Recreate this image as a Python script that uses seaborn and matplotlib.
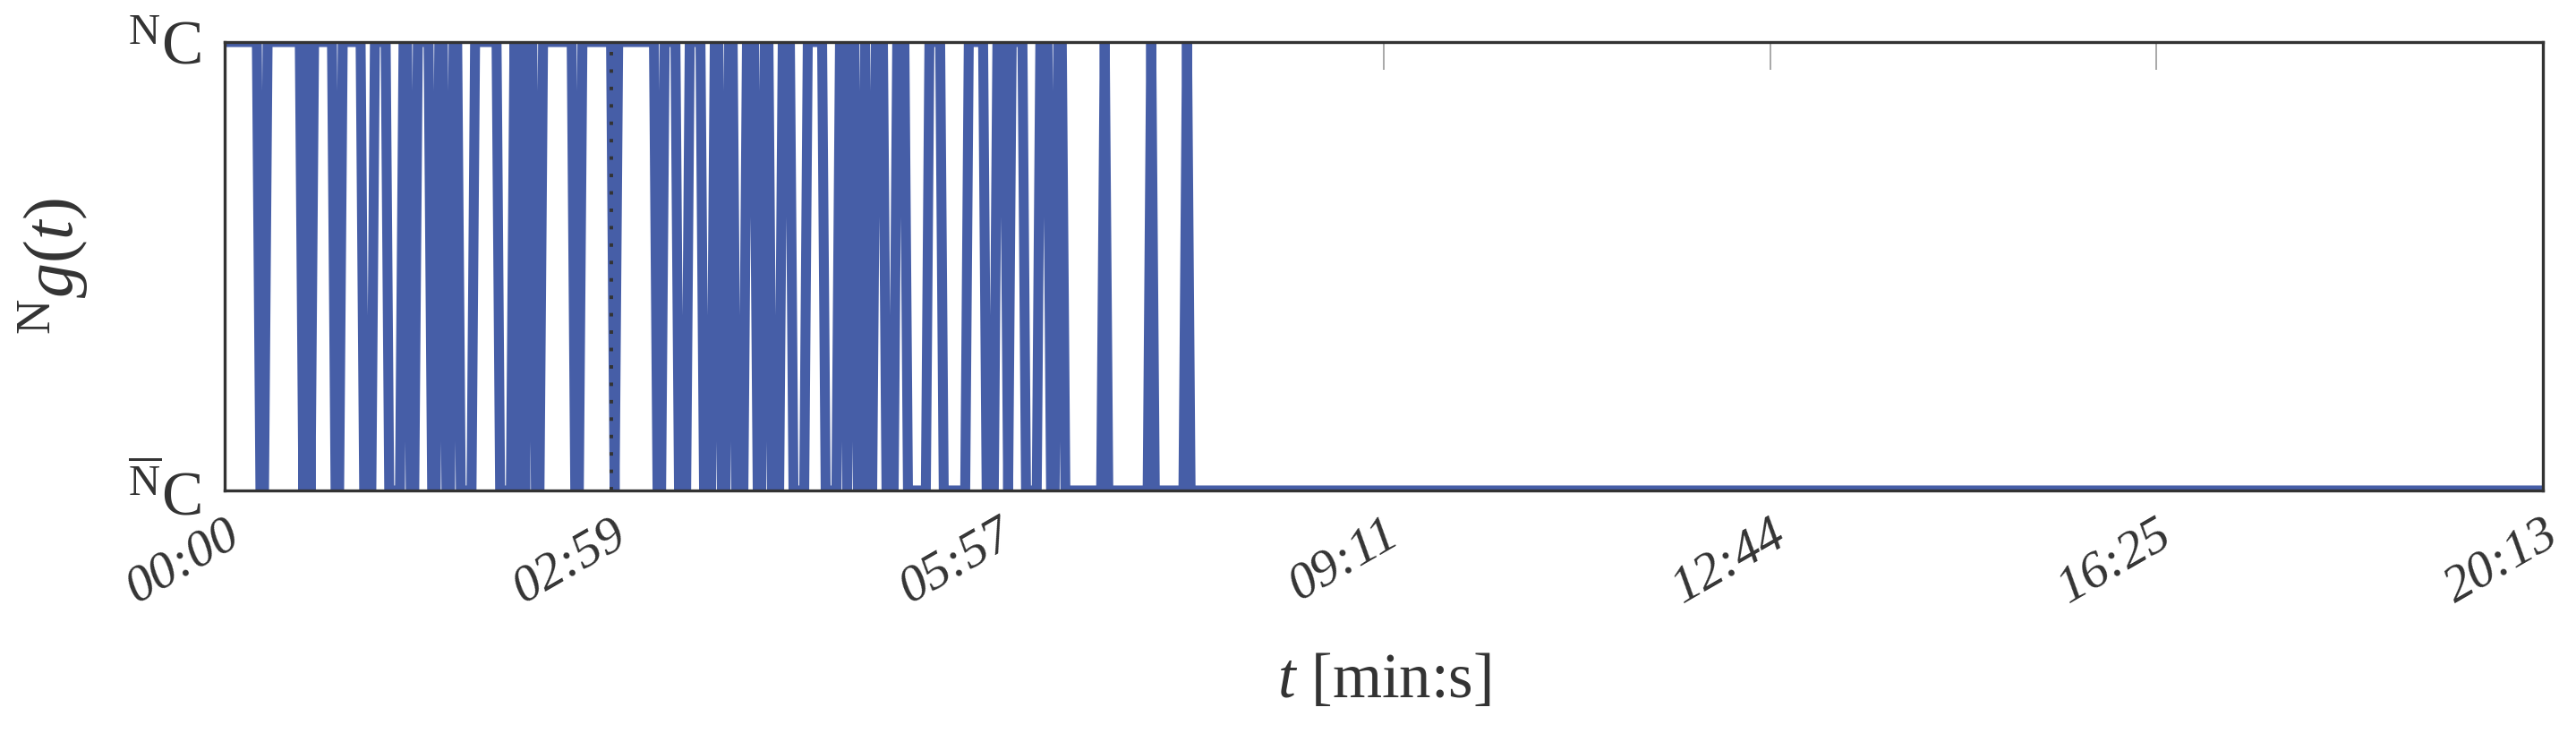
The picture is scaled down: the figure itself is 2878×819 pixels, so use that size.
import matplotlib
matplotlib.use('Agg')
import matplotlib.pyplot as plt
import numpy as np
import pandas as pd
import seaborn as sns

################################################################
# Data: binary state N_g(t) per sample (1 = N_C, 0 = N_C bar)
################################################################
n_samples = 648  # last sample index on the x axis

# runs of samples where the state is N_C (start, end), inclusive
high_runs = [(0, 9), (12, 21), (23, 23), (25, 30), (33, 38), (42, 45),
             (50, 51), (54, 57), (60, 61), (64, 65), (70, 76), (81, 81),
             (83, 83), (85, 86), (89, 97), (100, 108), (110, 120), (123, 126),
             (130, 133), (137, 138), (141, 142), (146, 148), (151, 152),
             (156, 158), (163, 167), (172, 173), (175, 176), (179, 179),
             (182, 184), (188, 190), (197, 200), (208, 212), (216, 218),
             (220, 223), (228, 230), (233, 234), (246, 246), (259, 259),
             (269, 269)]

tick_labels = ['00:00', '02:59', '05:57', '09:11', '12:44', '16:25', '20:13']
marker_sample = 108  # dotted vertical line (02:59)

state = np.zeros(n_samples + 1)
for start, end in high_runs:
    state[start:end + 1] = 1
df = pd.DataFrame({'sample': np.arange(n_samples + 1), 'state': state})

################################################################
# Plot
################################################################
sns.set_theme(style='white')
plt.rcParams['font.family'] = ['Liberation Serif', 'DejaVu Serif']
plt.rcParams['mathtext.fontset'] = 'custom'
plt.rcParams['mathtext.rm'] = 'Liberation Serif'
plt.rcParams['mathtext.it'] = 'Liberation Serif:italic'

text_color = '#333333'
fig, ax = plt.subplots(figsize=(28.78, 8.19), dpi=100)
fig.subplots_adjust(left=251 / 2878, right=2841 / 2878,
                    bottom=1 - 548 / 819, top=1 - 47 / 819)

sns.lineplot(x='sample', y='state', data=df, ax=ax, estimator=None,
             color='#465ea7', linewidth=8, zorder=3,
             solid_joinstyle='round', solid_capstyle='round')

ax.axvline(marker_sample, color=text_color, linestyle=(0, (1, 4)),
           linewidth=2.8, zorder=4)

ax.set_xlim(0, n_samples)
ax.set_ylim(0, 1)

ax.set_xticks(np.linspace(0, n_samples, len(tick_labels)))
ax.set_xticklabels(tick_labels, rotation=30, ha='right', va='top',
                   rotation_mode='anchor', fontstyle='italic')
ax.tick_params(axis='x', direction='in', length=22, width=1.2,
               color='#9a9a9a', top=True, pad=16, labelsize=42,
               labelcolor=text_color)

ax.set_yticks([0, 1])
ax.set_yticklabels([r'${}^{\overline{\mathrm{N}}}\mathrm{C}$',
                    r'${}^{\mathrm{N}}\mathrm{C}$'])
ax.tick_params(axis='y', length=0, pad=19, labelsize=50,
               labelcolor=text_color)

ax.set_xlabel(r'$t$ [min:s]', fontsize=51, color=text_color, va='center')
ax.xaxis.set_label_coords(0.5, -0.427)
ax.set_ylabel(r'${}^{\mathrm{N}}g(t)$', fontsize=56, color=text_color,
              va='center')
ax.yaxis.set_label_coords(-0.074, 0.5)

for spine in ax.spines.values():
    spine.set_color(text_color)
    spine.set_linewidth(2.4)
    spine.set_zorder(5)

fig.savefig('out.png', dpi=100)
